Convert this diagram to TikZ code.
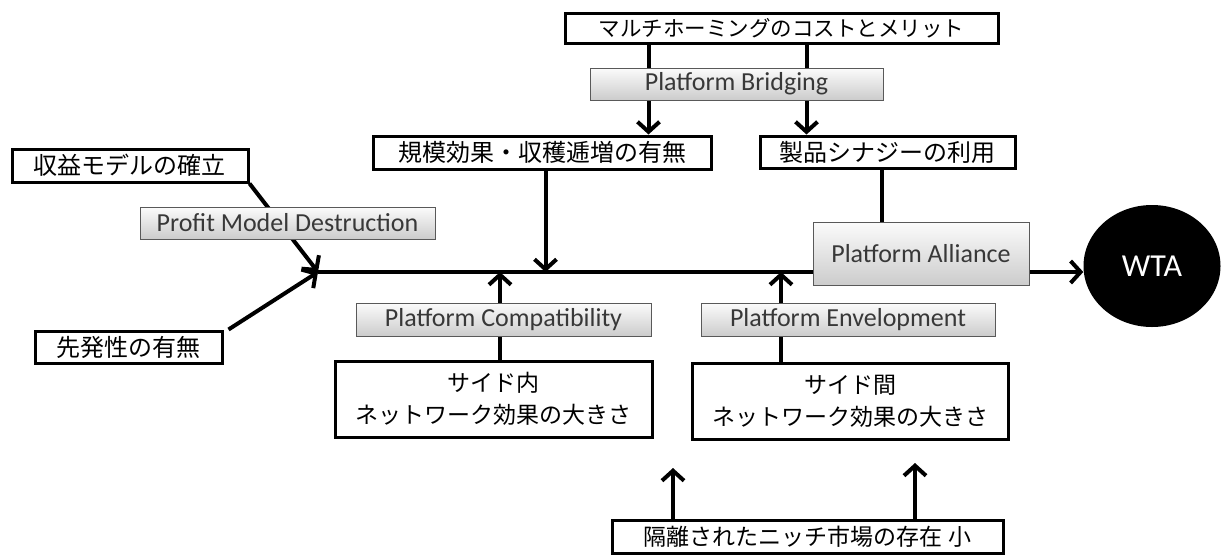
\documentclass[tikz,border=0pt]{standalone}
\usepackage{fontspec}
\newfontfamily\jp{Noto Sans CJK JP}
\newfontfamily\lat{Carlito}
\usetikzlibrary{arrows.meta,shapes.geometric,backgrounds}

\begin{document}
\begin{tikzpicture}[x=1pt,y=-1pt,
  conn/.style={line width=4pt},
  arr/.style={conn,-{Straight Barb[length=10pt,width=22pt]}},
  jbox/.style={draw,line width=3pt,fill=white,inner sep=0pt,align=center,
    font=\jp\fontsize{24}{31}\selectfont},
  gbox/.style={draw=black!65,line width=1pt,top color=gray!3,bottom color=gray!40,
    inner sep=0pt,text=black!78,font=\lat\fontsize{26}{30}\selectfont},
]
\useasboundingbox (0,0) rectangle (1221,555);

% factor boxes
\node[jbox,minimum width=433pt,minimum height=30pt,font=\jp\fontsize{21.5}{26}\selectfont]
  (multi) at (781.5,28) {マルチホーミングのコストとメリット};
\node[gbox,minimum width=293pt,minimum height=32pt] (bridge) at (736.5,84) {Platform Bridging};
\node[jbox,minimum width=338pt,minimum height=33pt] (scale) at (542,152.5) {規模効果・収穫逓増の有無};
\node[jbox,minimum width=255pt,minimum height=32pt] (synergy) at (887.5,152) {製品シナジーの利用};
\node[jbox,minimum width=236pt,minimum height=33pt] (revenue) at (130,165.5) {収益モデルの確立};
\node[gbox,minimum width=295pt,minimum height=32pt] (pmd) at (287.5,223) {Profit Model Destruction};
\node[jbox,minimum width=187pt,minimum height=32pt] (first) at (128.5,347) {先発性の有無};
\node[gbox,minimum width=295pt,minimum height=33pt] (compat) at (503.5,319.5) {Platform Compatibility};
\node[gbox,minimum width=294pt,minimum height=33pt] (envel) at (848,319.5) {Platform Envelopment};
\node[jbox,minimum width=317pt,minimum height=76pt,font=\jp\fontsize{23}{32}\selectfont]
  (inner) at (493.5,399) {サイド内\\ネットワーク効果の大きさ};
\node[jbox,minimum width=316pt,minimum height=76pt,font=\jp\fontsize{23}{32}\selectfont]
  (inter) at (850,401) {サイド間\\ネットワーク効果の大きさ};
\node[gbox,minimum width=216pt,minimum height=63pt] (alliance) at (921,253.5) {Platform Alliance};
\node[ellipse,fill=black,minimum width=137pt,minimum height=122pt,inner sep=0pt,
  text=white,font=\lat\fontsize{32}{36}\selectfont] (wta) at (1152,266) {WTA};
\node[jbox,minimum width=391pt,minimum height=33pt,font=\jp\fontsize{23}{28}\selectfont]
  (niche) at (807.5,536.5) {隔離されたニッチ市場の存在 小};

\coordinate (J) at (318,272);
\coordinate (tipA) at (673,468);
\coordinate (tipB) at (915,463);

\begin{scope}[on background layer]
  % main axis to the outcome
  \draw[arr] (J) -- (J -| wta.west);
  % converging causes on the left
  \draw[arr] (revenue.south east) -- (J);
  \draw[arr] ([xshift=5pt]first.north east) -- (J);
  % multi-homing branches
  \draw[arr] ([xshift=85pt]multi.south west) -- ([xshift=85pt]multi.south west |- scale.north);
  \draw[arr] ([xshift=243pt]multi.south west) -- ([xshift=243pt]multi.south west |- synergy.north);
  \draw[conn] ([xshift=123pt]synergy.south west) -- ([xshift=123pt]synergy.south west |- alliance.north);
  \draw[arr] ([xshift=174pt]scale.south west) -- ([xshift=174pt]scale.south west |- J);
  % network effects
  \draw[arr] ([xshift=6.5pt]inner.north) -- ([xshift=6.5pt]inner.north |- J);
  \draw[arr] ([xshift=-69pt]inter.north) -- ([xshift=-69pt]inter.north |- J);
  % niche market
  \draw[arr] (niche.north west -| tipA) -- (tipA);
  \draw[arr] (niche.north west -| tipB) -- (tipB);
\end{scope}
\end{tikzpicture}
\end{document}
